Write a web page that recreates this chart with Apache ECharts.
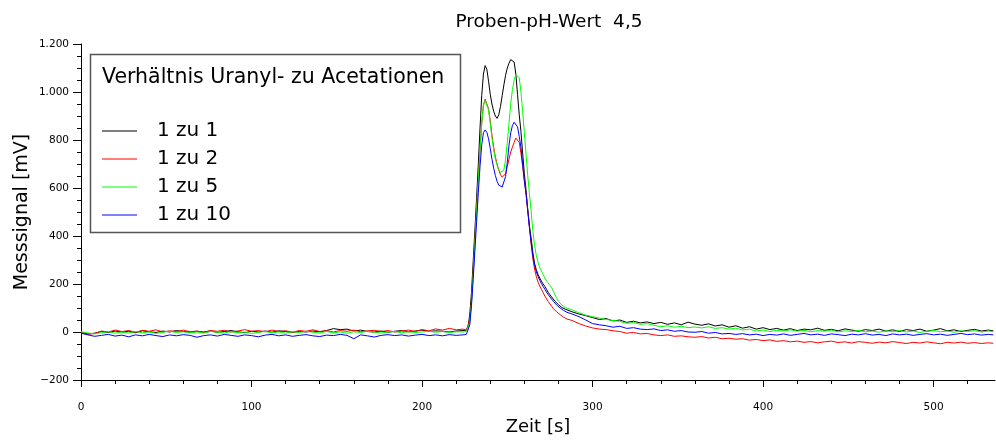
<!DOCTYPE html>
<html>
<head>
<meta charset="utf-8">
<script src="https://cdn.jsdelivr.net/npm/echarts@6/dist/echarts.min.js"></script>
<style>
  html, body { margin: 0; padding: 0; background: #fff; }
  #chart { width: 996px; height: 444px; }
</style>
</head>
<body>
<div id="chart"></div>
<script>
// Sample times [s]: coarse baseline, 1 s steps across the peak, coarse tail
const timeA = [0, 4, 8, 12, 16, 20, 24, 28, 32, 36,
  40, 44, 48, 52, 56, 60, 64, 68, 72, 76,
  80, 84, 88, 92, 96, 100, 104, 108, 112, 116,
  120, 124, 128, 132, 136, 140, 144, 148, 152, 156,
  160, 164, 168, 172, 176, 180, 184, 188, 192, 196,
  200, 204, 208, 212, 216, 220, 224];
const timeB = [225, 226, 227, 228, 229, 230, 231, 232, 233, 234,
  235, 236, 237, 238, 239, 240, 241, 242, 243, 244,
  245, 246, 247, 248, 249, 250, 251, 252, 253, 254,
  255, 256, 257, 258, 259, 260, 261, 262, 263, 264,
  265, 266, 267, 268, 269, 270, 271, 272, 273, 274,
  275, 276, 277, 278, 279, 280, 281, 282, 283, 284,
  285];
const timeC = [288, 292, 296, 300, 304, 308, 312, 316, 320, 324,
  328, 332, 336, 340, 344, 348, 352, 356, 360, 364,
  368, 372, 376, 380, 384, 388, 392, 396, 400, 404,
  408, 412, 416, 420, 424, 428, 432, 436, 440, 444,
  448, 452, 456, 460, 464, 468, 472, 476, 480, 484,
  488, 492, 496, 500, 504, 508, 512, 516, 520, 524,
  528, 532, 535];

// Messsignal [mV], ratio 1 zu 1
const ratio1to1 = [
  -3, -8, -5, 2, -2, 4, 0, 3, -3, 5,
  1, -2, 4, 0, 6, 2, -1, 3, 0, 5,
  -2, 2, 6, 1, -3, 3, 0, 4, -1, 5,
  2, -2, 3, 0, 4, 1, 6, 14, 10, 12,
  4, 8, 2, 0, 4, -1, 3, 6, 1, 4,
  8, 2, 5, 3, 0, 4, 6,
  5, 8, 22, 75, 165, 295, 425, 560, 700, 850,
  985, 1075, 1110, 1095, 1045, 990, 950, 920, 900, 890,
  905, 940, 985, 1030, 1070, 1100, 1120, 1135, 1143, 1125,
  1075, 990, 905, 835, 745, 660, 590, 510, 440, 390,
  330, 285, 260, 240, 225, 212, 200, 190, 178, 165,
  155, 146, 138, 128, 120, 114, 108, 102, 98, 95,
  92,
  84, 75, 68, 60, 52, 56, 46, 50, 40, 45,
  38, 42, 35, 40, 32, 38, 30, 41, 33, 28,
  34, 25, 30, 20, 26, 16, 22, 12, 18, 10,
  15, 8, 14, 6, 12, 9, 16, 7, 11, 5,
  13, 8, 3, 10, 6, 12, 4, 9, 2, 10,
  6, 12, 3, 8, 14, 5, 9, 2, 7, 11,
  4, 8, 5];

// ratio 1 zu 2
const ratio1to2 = [
  -2, -10, -6, 4, 0, 8, 2, 6, -1, 7,
  3, 9, 0, 5, 2, 8, 1, 4, -2, 6,
  3, 7, 0, 4, 10, 3, 6, 1, 8, 2,
  5, -1, 6, 3, 9, 2, 5, 0, 6, 3,
  8, 1, 5, 7, 2, 6, 0, 4, 8, 2,
  10, 5, 13, 8, 15, 9, 12,
  10, 8, 14, 50, 130, 250, 380, 510, 640, 760,
  870, 945, 970, 965, 930, 880, 820, 770, 730, 700,
  675, 655, 645, 640, 660, 690, 720, 750, 770, 790,
  808, 815, 790, 745, 690, 630, 575, 505, 435, 365,
  305, 262, 232, 208, 192, 178, 164, 150, 138, 127,
  117, 107, 97, 90, 84, 78, 72, 66, 62, 58,
  54,
  48, 35, 25, 17, 12, 10, 5, 2, -5, -2,
  -8, -6, -12, -15, -12, -18, -16, -20, -22, -19,
  -25, -22, -28, -26, -30, -28, -34, -31, -36, -33,
  -39, -36, -41, -38, -43, -40, -45, -41, -38, -44,
  -41, -46, -40, -43, -47, -42, -45, -40, -44, -48,
  -43, -46, -41, -45, -49, -43, -46, -42, -47, -44,
  -48, -45, -47];

// ratio 1 zu 5
const ratio1to5 = [
  2, -4, -8, -3, 1, -5, 0, -4, 2, -3,
  0, -6, -1, 3, -2, 1, -4, 0, -5, 2,
  -1, -4, 1, -3, 0, -6, -1, 2, -3, 0,
  -5, 1, -2, 3, -1, -4, 2, -3, 0, -5,
  1, -2, 3, -1, -4, 0, 2, -3, 1, -2,
  0, 3, -1, 2, -2, 1, 0,
  0, 2, 10, 40, 120, 240, 370, 500, 630, 760,
  870, 945, 965, 960, 925, 870, 810, 760, 720, 695,
  675, 665, 661, 675, 720, 790, 870, 950, 1010, 1050,
  1072, 1078, 1060, 1000, 920, 830, 740, 650, 575, 500,
  420, 360, 320, 290, 268, 255, 240, 225, 212, 205,
  195, 185, 170, 155, 140, 128, 120, 112, 106, 102,
  98,
  92, 80, 70, 64, 58, 52, 48, 44, 36, 40,
  32, 35, 28, 22, 26, 20, 24, 18, 21, 17,
  22, 15, 18, 12, 16, 8, 12, 4, 8, 2,
  7, 4, 9, 3, 7, 1, 6, 3, 8, 0,
  5, 2, 7, 1, 4, -1, 5, 2, 6, 0,
  4, -2, 3, 6, 1, 4, -1, 5, 2, 6,
  0, 4, 2];

// ratio 1 zu 10
const ratio1to10 = [
  -5, -12, -18, -14, -10, -17, -13, -20, -12, -16,
  -10, -15, -19, -12, -16, -11, -14, -22, -15, -12,
  -17, -10, -14, -18, -12, -15, -20, -13, -10, -16,
  -12, -18, -14, -11, -16, -19, -13, -15, -10, -14,
  -28, -12, -16, -21, -14, -11, -15, -12, -17, -13,
  -10, -15, -12, -16, -11, -14, -12,
  -12, -10, -4, 30, 110, 220, 340, 460, 580, 690,
  780, 830, 842, 832, 805, 765, 720, 683, 652, 628,
  612, 606, 604, 612, 648, 708, 778, 830, 860, 874,
  876, 855, 815, 770, 700, 630, 575, 505, 435, 372,
  318, 278, 252, 232, 216, 202, 190, 178, 166, 156,
  146, 137, 128, 120, 112, 106, 100, 94, 90, 86,
  82,
  75, 64, 50, 35, 30, 26, 20, 24, 15, 18,
  12, 10, 13, 6, 9, 3, 6, 0, -1, 2,
  -5, -2, -8, -6, -10, -7, -12, -9, -15, -10,
  -13, -8, -14, -10, -6, -12, -9, -14, -8, -11,
  -15, -9, -12, -7, -13, -10, -15, -8, -12, -9,
  -14, -10, -7, -12, -9, -14, -10, -6, -11, -8,
  -13, -10, -12];

const seriesNames = ['1 zu 1', '1 zu 2', '1 zu 5', '1 zu 10'];
const seriesColors = ['#000000', '#ff0000', '#00ff00', '#0000ff'];
const xMajorTicks = [0, 100, 200, 300, 400, 500];
const xMinorTicks = [20, 40, 60, 80, 120, 140, 160, 180, 220, 240, 260, 280,
  320, 340, 360, 380, 420, 440, 460, 480, 520];

const times = timeA.concat(timeB, timeC);
const allValues = [ratio1to1, ratio1to2, ratio1to5, ratio1to10];

const FONT = 'DejaVu Sans';

function fmtY(v) {
  const abs = String(Math.abs(v)).replace(/\B(?=(\d{3})+(?!\d))/g, '.');
  return v < 0 ? '\u2212' + abs : abs;
}

const chart = echarts.init(document.getElementById('chart'), null, { renderer: 'canvas' });

const xCommon = {
  type: 'value', min: 0, max: 536, gridIndex: 0, position: 'bottom'
};

chart.setOption({
  animation: false,
  backgroundColor: '#ffffff',
  title: {
    text: 'Proben-pH-Wert  4,5',
    left: 544, top: 8, textAlign: 'center',
    textStyle: { fontFamily: FONT, fontSize: 18.5, fontWeight: 'normal', color: '#000' }
  },
  grid: { left: 81, right: 1, top: 44, bottom: 64, containLabel: false },
  legend: {
    data: seriesNames,
    orient: 'vertical',
    left: 102, top: 121,
    z: 100,
    padding: 0,
    icon: 'rect',
    itemWidth: 35, itemHeight: 1,
    itemGap: 8,
    textStyle: { fontFamily: FONT, fontSize: 20, lineHeight: 20, color: '#000', padding: [0, 0, 0, 15] }
  },
  graphic: [
    {
      type: 'rect', z: 1,
      shape: { x: 90.5, y: 54.5, width: 370, height: 178 },
      style: { fill: '#ffffff', stroke: '#555555', lineWidth: 1.5 }
    },
    {
      type: 'text', z: 2, left: 102, top: 67,
      style: { text: 'Verhältnis Uranyl- zu Acetationen', font: '20.5px "DejaVu Sans"', fill: '#000' }
    }
  ],
  xAxis: [
    Object.assign({}, xCommon, {
      interval: 100,
      name: 'Zeit [s]', nameLocation: 'middle', nameGap: 38,
      nameTextStyle: { fontFamily: FONT, fontSize: 18, color: '#000' },
      axisLine: { show: true, onZero: false, lineStyle: { color: '#000', width: 1 } },
      axisTick: { show: true, length: 7, customValues: xMajorTicks, lineStyle: { color: '#000' } },
      axisLabel: { show: true, margin: 22, customValues: xMajorTicks, fontFamily: FONT, fontSize: 10.5, color: '#000' },
      splitLine: { show: false }
    }),
    Object.assign({}, xCommon, {
      interval: 20,
      axisLine: { show: false, onZero: false },
      axisTick: { show: true, length: 4, customValues: xMinorTicks, lineStyle: { color: '#000' } },
      axisLabel: { show: false },
      splitLine: { show: false }
    })
  ],
  yAxis: {
    type: 'value', min: -200, max: 1200, interval: 200,
    name: 'Messsignal [mV]', nameLocation: 'middle', nameGap: 49, nameMoveOverlap: false,
    nameTextStyle: { fontFamily: FONT, fontSize: 19, color: '#000' },
    axisLine: { show: true, onZero: false, lineStyle: { color: '#000', width: 1 } },
    axisTick: { show: true, length: 8, lineStyle: { color: '#000' } },
    minorTick: { show: true, splitNumber: 4, length: 4, lineStyle: { color: '#000' } },
    axisLabel: { margin: 12, fontFamily: FONT, fontSize: 10.5, color: '#000', formatter: fmtY },
    splitLine: { show: false }
  },
  series: seriesNames.map((name, i) => ({
    name: name,
    type: 'line',
    xAxisIndex: 0,
    symbol: 'none',
    sampling: null,
    color: seriesColors[i],
    lineStyle: { width: 1, color: seriesColors[i] },
    data: times.map((t, k) => [t, allValues[i][k]])
  }))
});
</script>
</body>
</html>
